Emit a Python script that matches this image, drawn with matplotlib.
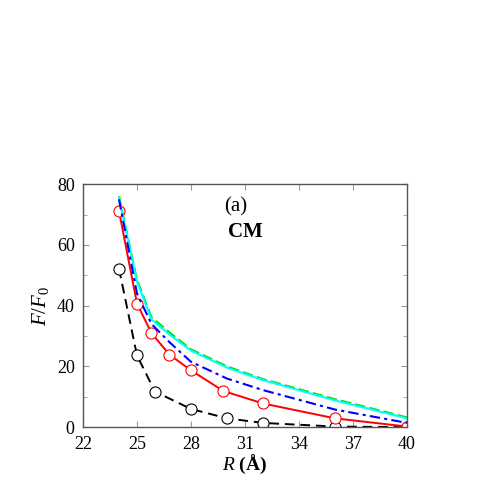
import numpy as np
import matplotlib
matplotlib.use('Agg')
import matplotlib.pyplot as plt
from matplotlib.ticker import MultipleLocator

plt.rcParams['font.family'] = ['Liberation Serif', 'DejaVu Serif']
plt.rcParams['mathtext.fontset'] = 'custom'
plt.rcParams['mathtext.rm'] = 'Liberation Serif'
plt.rcParams['mathtext.it'] = 'Liberation Serif:italic'
plt.rcParams['mathtext.bf'] = 'Liberation Serif:bold'

# black dashed with circles
r_black = [24, 25, 26, 28, 30, 32, 36, 40]
f_black = [52.2, 23.6, 11.7, 6.0, 2.9, 1.4, 0.2, 0.0]

# red solid with circles
r_red = [24, 25, 25.8, 26.8, 28, 29.8, 32, 36, 40]
f_red = [71.2, 40.7, 31.0, 23.9, 18.7, 11.9, 7.8, 2.9, 0.2]

# blue dash-dot
r_blue = [24, 25, 25.8, 26.8, 28, 30, 32, 36, 40]
f_blue = [75.0, 44.0, 34.0, 28.0, 21.5, 16.0, 12.2, 5.8, 1.4]

# cyan solid
r_cyan = [24, 25, 25.8, 26.8, 28, 30, 32, 36, 40]
f_cyan = [75.5, 47.9, 35.5, 30.5, 25.2, 19.6, 15.5, 8.8, 2.9]

# green dashed
r_green = [24, 25, 25.8, 26.8, 28, 30, 32, 36, 40]
f_green = [76.0, 48.5, 36.2, 31.2, 25.6, 20.0, 15.8, 9.2, 3.2]

xticks = [22, 25, 28, 31, 34, 37, 40]
yticks = [0, 20, 40, 60, 80]

fig = plt.figure(figsize=(4.91, 4.91), dpi=100)
ax = fig.add_axes([0.169, 0.130, 0.660, 0.495])

ax.plot(r_black, f_black, 'k--', lw=1.4, dashes=(5, 3), marker='o', ms=8,
        mfc='white', mec='black', mew=0.8)
ax.plot(r_red, f_red, '-', color='red', lw=1.4, marker='o', ms=8,
        mfc='white', mec='red', mew=0.8)
ax.plot(r_green, f_green, '--', color='#00dd00', lw=1.5, dashes=(5, 2))
ax.plot(r_cyan, f_cyan, '-', color='cyan', lw=1.5)
ax.plot(r_blue, f_blue, '-.', color='blue', lw=1.5, dashes=(5, 2, 1.5, 2))

ax.set_xlim(22, 40)
ax.set_ylim(0, 80)
ax.set_xticks(xticks)
ax.set_yticks(yticks)
ax.yaxis.set_minor_locator(MultipleLocator(10))
ax.tick_params(which='both', direction='in', top=True, right=True,
               labelsize=13, color='#999999')
ax.tick_params(which='major', length=4, pad=6)
ax.tick_params(which='minor', length=3)
for s in ax.spines.values():
    s.set_color('#555555')
    s.set_linewidth(1.0)

ax.text(30.5, 72.5, '(a)', fontsize=15, ha='center', va='center')
ax.text(31.0, 64.3, 'CM', fontsize=15, fontweight='bold', ha='center', va='center')

ax.set_xlabel(r'$\mathit{R}$ $\mathbf{(\AA)}$', fontsize=14, labelpad=0)
ax.set_ylabel(r'$\mathit{F/F}_{\mathit{0}}$', fontsize=15, labelpad=4)

fig.savefig('out.png', dpi=100)
